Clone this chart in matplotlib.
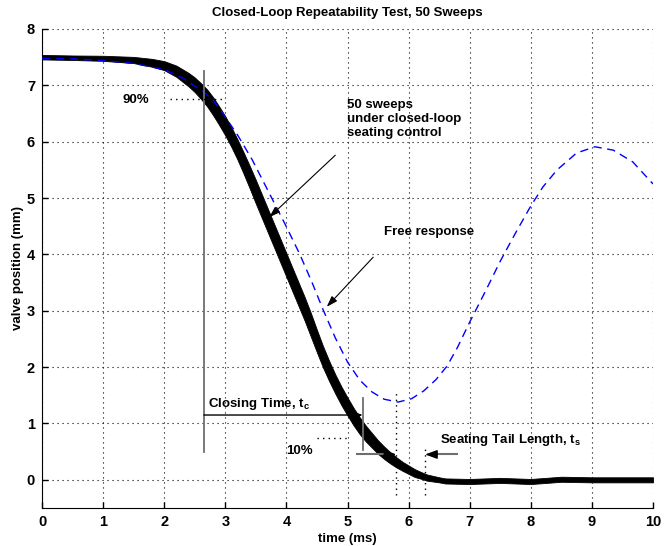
import numpy as np
import matplotlib
matplotlib.use("Agg")
from matplotlib import pyplot as plt

# closed-loop sweeps: centre of the black band and its half thickness (mm)
sweep_t = [0, 0.5, 1.0, 1.5, 1.8, 2.0, 2.2, 2.4, 2.5, 2.6, 2.7, 2.8, 2.9, 3.0,
           3.1, 3.2, 3.3, 3.4, 3.5, 3.6, 3.7, 3.8, 3.9, 4.0, 4.1, 4.2, 4.3, 4.4,
           4.5, 4.6, 4.7, 4.8, 4.9, 5.0, 5.1, 5.2, 5.3, 5.4, 5.5, 5.6, 5.7, 5.8,
           5.9, 6.0, 6.1, 6.2, 6.3, 6.4, 6.5, 6.6, 7.0, 7.5, 8.0, 8.5, 9.0, 10.0]
sweep_y = [7.5, 7.49, 7.48, 7.45, 7.40, 7.35, 7.25, 7.10, 7.01, 6.90, 6.78,
           6.63, 6.46, 6.28, 6.08, 5.86, 5.62, 5.37, 5.11, 4.85, 4.59, 4.33,
           4.07, 3.81, 3.55, 3.29, 3.03, 2.75, 2.46, 2.18, 1.93, 1.70, 1.49,
           1.30, 1.12, 0.96, 0.82, 0.70, 0.58, 0.48, 0.39, 0.31, 0.24, 0.18,
           0.12, 0.08, 0.04, 0.02, 0.0, -0.02, -0.03, -0.01, -0.03, 0.01, 0.0,
           0.0]
sweep_spread = [0.04, 0.04, 0.045, 0.055, 0.07, 0.08, 0.10, 0.12, 0.13, 0.14,
                0.15, 0.16, 0.165, 0.17, 0.175, 0.18, 0.19, 0.20, 0.21, 0.21,
                0.21, 0.21, 0.21, 0.21, 0.21, 0.21, 0.21, 0.21, 0.20, 0.19,
                0.18, 0.17, 0.165, 0.16, 0.155, 0.15, 0.14, 0.13, 0.12, 0.11,
                0.10, 0.09, 0.08, 0.075, 0.07, 0.06, 0.055, 0.05, 0.045, 0.045,
                0.045, 0.045, 0.045, 0.045, 0.045, 0.045]

# free (open-loop) response, blue dashed
free_t = [0, 0.5, 1.0, 1.5, 2.0, 2.3, 2.65, 2.8, 3.0, 3.2, 3.44, 3.76, 4.0, 4.22,
          4.42, 4.6, 4.8, 5.0, 5.2, 5.4, 5.6, 5.83, 6.05, 6.25, 6.45, 6.63, 6.8,
          7.0, 7.25, 7.5, 7.75, 8.0, 8.2, 8.43, 8.75, 9.05, 9.35, 9.67, 10.0]
free_y = [7.48, 7.47, 7.44, 7.39, 7.28, 7.13, 6.88, 6.74, 6.44, 6.12, 5.68, 5.0,
          4.49, 4.0, 3.5, 3.02, 2.52, 2.09, 1.77, 1.56, 1.43, 1.38, 1.44, 1.58,
          1.78, 2.02, 2.35, 2.8, 3.33, 3.88, 4.38, 4.86, 5.2, 5.5, 5.8, 5.91,
          5.85, 5.64, 5.25]

t_close_start = 2.65
t_close_end = 5.25
t_tail_a = 5.8
t_tail_b = 6.27

plt.rcParams['font.family'] = ['Liberation Sans', 'DejaVu Sans']
plt.rcParams['font.weight'] = 'bold'
plt.rcParams['axes.titleweight'] = 'bold'
plt.rcParams['axes.labelweight'] = 'bold'

fig = plt.figure(figsize=(6.71, 5.46), dpi=100)
ax = fig.add_axes([0.0626, 0.0696, 0.9106, 0.8773])

sy = np.array(sweep_y)
sp = np.array(sweep_spread)
ax.fill_between(sweep_t, sy - sp, sy + sp, color='k', lw=0.6, zorder=3)
ax.plot(free_t, free_y, color='#0000ff', lw=1.0, dashes=(6, 4), zorder=4)

gray = '#6e6e6e'
head = '-|>,head_length=0.6,head_width=0.22'
# closing time markers
ax.plot([t_close_start, t_close_start], [0.5, 7.25], color=gray, lw=1.3, zorder=5)
ax.plot([t_close_end, t_close_end], [0.53, 1.45], color=gray, lw=1.3, zorder=5)
ax.plot([2.1, 2.95], [6.75, 6.75], color='k', lw=1, ls=(0, (1, 3)), zorder=5)
ax.plot([4.5, 5.0], [0.75, 0.75], color='k', lw=1, ls=(0, (1, 3)), zorder=5)
ax.annotate('', xy=(t_close_end, 1.15), xytext=(t_close_start, 1.15),
            arrowprops=dict(arrowstyle=head, color='k', lw=1, mutation_scale=12,
                            shrinkA=0, shrinkB=0), zorder=6)

# seating tail markers
ax.plot([t_tail_a, t_tail_a], [-0.27, 1.55], color='k', lw=1, ls=(0, (1, 3)), zorder=5)
ax.plot([t_tail_b, t_tail_b], [-0.27, 0.55], color='k', lw=1, ls=(0, (1, 3)), zorder=5)
ax.plot([5.16, 5.62], [0.45, 0.45], color=gray, lw=1.5, zorder=5)
ax.plot([6.45, 6.79], [0.45, 0.45], color=gray, lw=1.5, zorder=5)
ax.annotate('', xy=(t_tail_a, 0.45), xytext=(5.6, 0.45),
            arrowprops=dict(arrowstyle=head, color='k', lw=1, mutation_scale=12,
                            shrinkA=0, shrinkB=0), zorder=6)
ax.annotate('', xy=(t_tail_b, 0.45), xytext=(6.47, 0.45),
            arrowprops=dict(arrowstyle=head, color='k', lw=1, mutation_scale=12,
                            shrinkA=0, shrinkB=0), zorder=6)

# pointer arrows
ax.annotate('', xy=(3.72, 4.66), xytext=(4.80, 5.76),
            arrowprops=dict(arrowstyle='-|>,head_length=0.6,head_width=0.2',
                            color='k', lw=0.8, mutation_scale=11,
                            shrinkA=0, shrinkB=0), zorder=6)
ax.annotate('', xy=(4.66, 3.07), xytext=(5.42, 3.95),
            arrowprops=dict(arrowstyle='-|>,head_length=0.6,head_width=0.2',
                            color='k', lw=0.8, mutation_scale=11,
                            shrinkA=0, shrinkB=0), zorder=6)

fs = 9.5
ax.text(1.31, 6.74, '90%', fontsize=fs, va='center', zorder=7)
ax.text(4.0, 0.51, '10%', fontsize=fs, va='center', zorder=7)
ax.text(4.99, 6.40, '50 sweeps\nunder closed-loop\nseating control',
        fontsize=fs, va='center', zorder=7)
ax.text(5.6, 4.40, 'Free response', fontsize=fs, va='center', zorder=7)
ax.text(2.72, 1.29, r'Closing Time, t$\mathregular{_c}$', fontsize=fs,
        va='baseline', zorder=7)
ax.text(6.51, 0.66, r'Seating Tail Length, t$\mathregular{_s}$', fontsize=fs,
        va='baseline', zorder=7)

ax.set_xlim(0, 10)
ax.set_ylim(-0.5, 8)
ax.set_xticks(range(0, 11))
ax.set_yticks(range(0, 9))
ax.grid(True, color='k', lw=0.8, ls=(0, (1, 3.5)))
ax.set_axisbelow(True)
for s in ['top', 'right']:
    ax.spines[s].set_visible(False)
ax.tick_params(direction='in', length=4, width=1, labelsize=10.5, pad=5)
ax.set_title('Closed-Loop Repeatability Test, 50 Sweeps', fontsize=9.5, pad=9)
ax.set_xlabel('time (ms)', fontsize=9.5, labelpad=3)
ax.set_ylabel('valve position (mm)', fontsize=9.5, labelpad=2)

fig.savefig('out.png', dpi=100)
